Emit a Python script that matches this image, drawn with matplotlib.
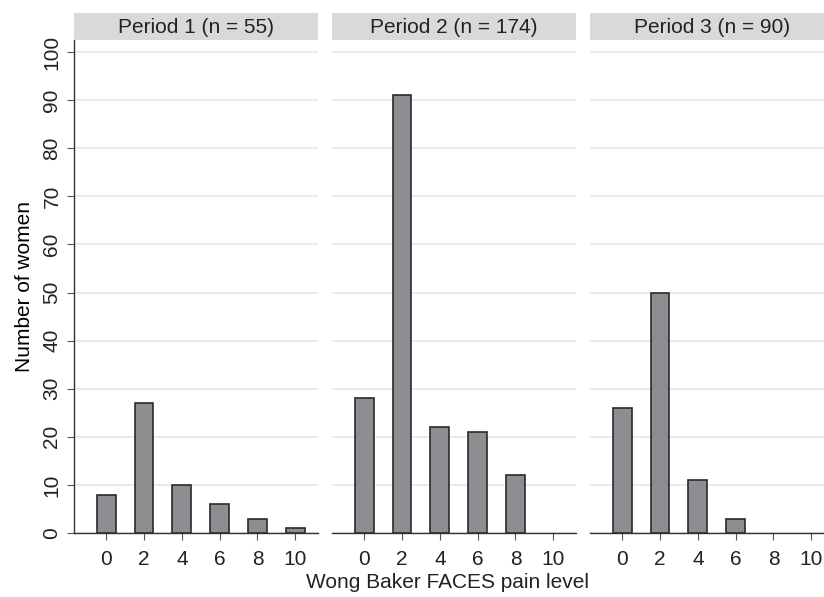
import matplotlib
matplotlib.use("Agg")
import matplotlib.pyplot as plt

pain_levels = [0, 2, 4, 6, 8, 10]
period_titles = ["Period 1 (n = 55)", "Period 2 (n = 174)", "Period 3 (n = 90)"]
period1 = [8, 27, 10, 6, 3, 1]
period2 = [28, 91, 22, 21, 12, 0]
period3 = [26, 50, 11, 3, 0, 0]
y_ticks = [0, 10, 20, 30, 40, 50, 60, 70, 80, 90, 100]

plt.rcParams["font.family"] = ["Liberation Sans", "DejaVu Sans"]
plt.rcParams["text.color"] = "#222222"
plt.rcParams["xtick.color"] = "#555555"
plt.rcParams["ytick.color"] = "#555555"
plt.rcParams["xtick.labelcolor"] = "#222222"
plt.rcParams["ytick.labelcolor"] = "#222222"

fig = plt.figure(figsize=(8.24, 5.97), dpi=100)
W, H = 824, 597
lefts = [74, 332, 590]
pw = 244
y0, y1 = 533, 40  # axes bottom / top in pixels
FS = 15

for i, (title, counts) in enumerate(zip(period_titles, [period1, period2, period3])):
    ax = fig.add_axes([lefts[i] / W, 1 - y0 / H, pw / W, (y0 - y1) / H])
    # empty categories have no bar at all in the original
    xs = [x for x, c in zip(pain_levels, counts) if c > 0]
    hs = [c for c in counts if c > 0]
    ax.bar(xs, hs, width=1.0, color="#8e8e92",
           edgecolor="#2a2a2a", linewidth=1.2, zorder=3)
    ax.set_xlim(-1.7, 11.2)
    ax.set_ylim(0, 102.5)
    ax.set_yticks(y_ticks)
    ax.yaxis.grid(True, color="#e8e8e8", linewidth=1.2, zorder=0)
    ax.set_xticks(pain_levels)
    ax.set_xticklabels([str(v) for v in pain_levels], fontsize=FS)
    for s in ["top", "right"]:
        ax.spines[s].set_visible(False)
    ax.spines["bottom"].set_color("#333333")
    ax.spines["bottom"].set_linewidth(1.0)
    ax.tick_params(axis="x", length=5, pad=7)
    if i == 0:
        ax.spines["left"].set_color("#333333")
        ax.spines["left"].set_linewidth(1.0)
        ax.tick_params(axis="y", length=5, labelsize=FS, labelrotation=90, pad=4)
        for lab in ax.get_yticklabels():
            lab.set_verticalalignment("center")
        ax.set_ylabel("Number of women", fontsize=FS, labelpad=6)
    else:
        ax.spines["left"].set_visible(False)
        ax.tick_params(axis="y", left=False, labelleft=False)
    # header strip
    sx = fig.add_axes([lefts[i] / W, 1 - y1 / H, pw / W, 27 / H])
    sx.set_facecolor("#d9d9d9")
    sx.set_xticks([])
    sx.set_yticks([])
    for s in sx.spines.values():
        s.set_visible(False)
    sx.text(0.5, 0.45, title, ha="center", va="center", fontsize=FS,
            transform=sx.transAxes)

fig.text(448 / W, 1 - 583 / H, "Wong Baker FACES pain level", ha="center",
         va="center", fontsize=FS)

fig.savefig("out.png", dpi=100)
